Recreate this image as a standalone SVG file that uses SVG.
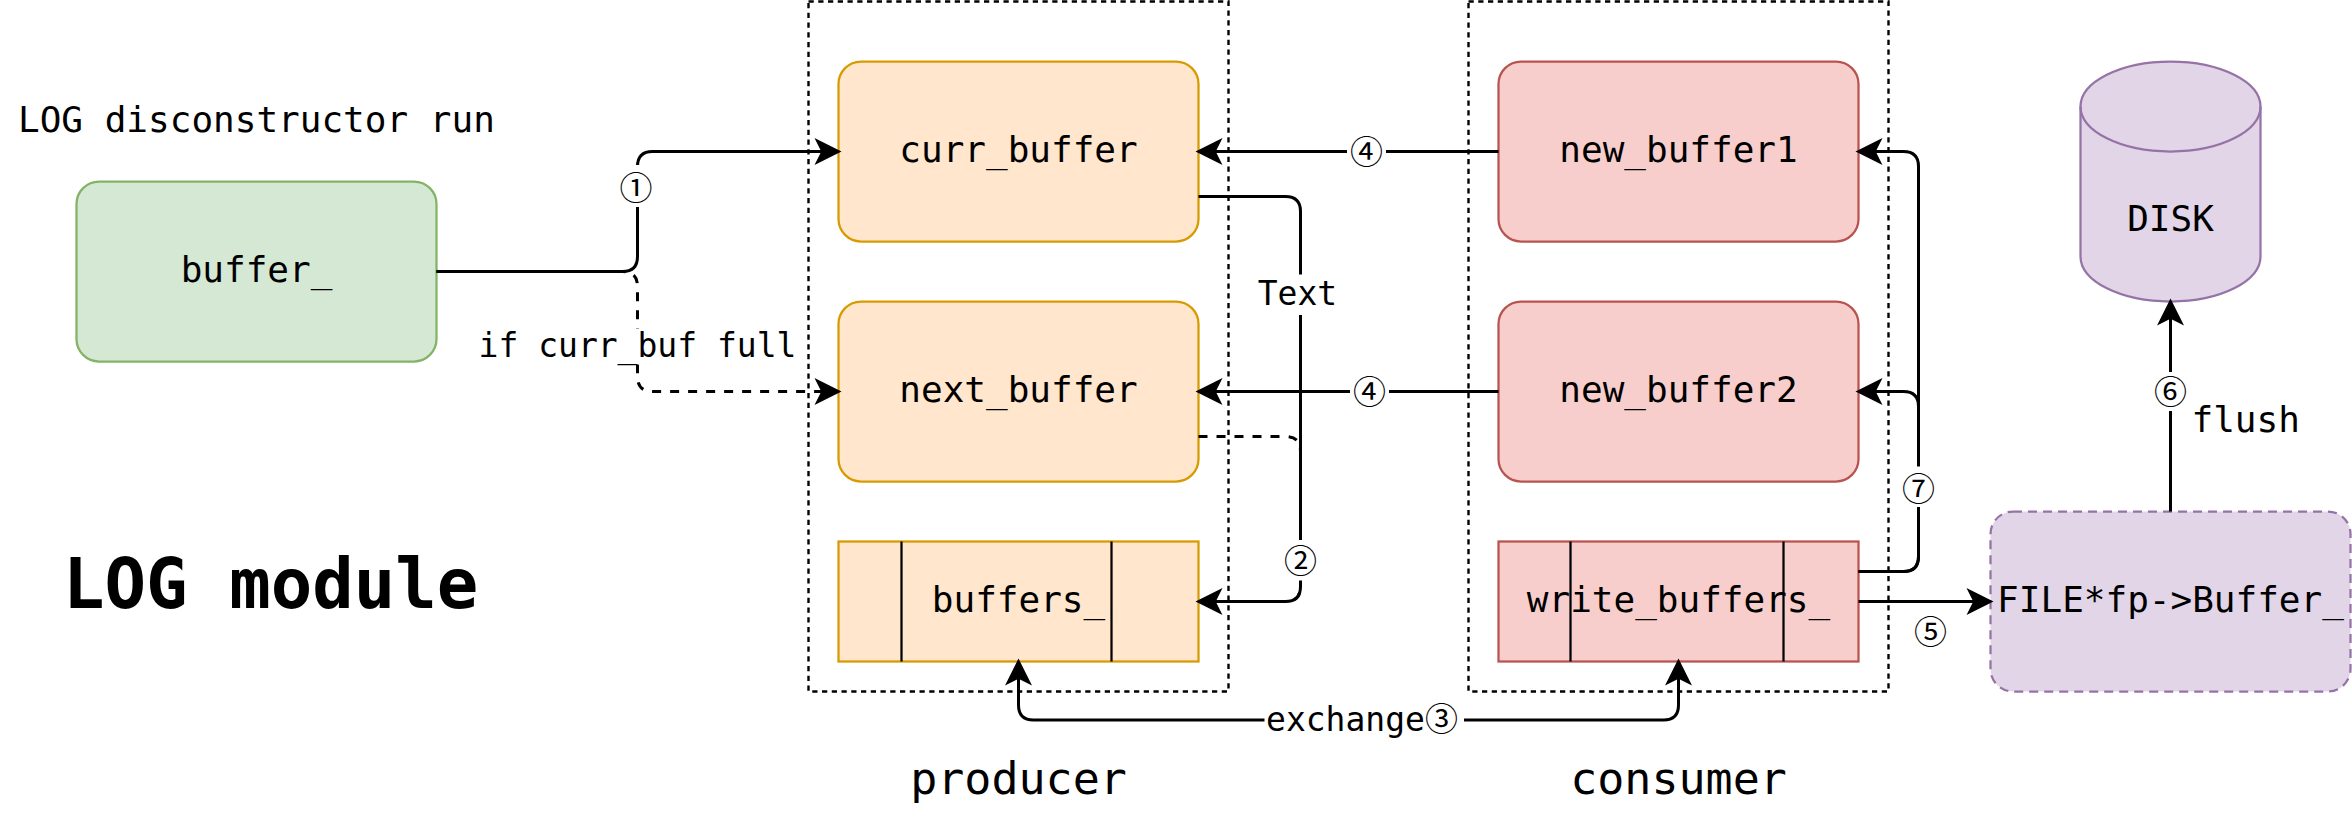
<svg xmlns="http://www.w3.org/2000/svg" width="2352" height="816" viewBox="0 0 2352 816">
<defs>
<style>
.t{font-family:"DejaVu Sans Mono","Liberation Mono",monospace;fill:#000}
.n{font-size:24px;text-anchor:middle}
.l{font-size:22px;text-anchor:middle}
.c{font-family:"Noto Sans CJK SC","DejaVu Sans",sans-serif;font-size:22px;text-anchor:middle;fill:#000}
.e{fill:none;stroke:#000;stroke-width:2}
.d{stroke-dasharray:6 6}
.bx{stroke-width:1.5}
.or{fill:#ffe6cc;stroke:#d79b00}
.rd{fill:#f8cecc;stroke:#b85450}
.pu{fill:#e1d5e7;stroke:#9673a6}
.gr{fill:#d5e8d4;stroke:#82b366}
.grp{fill:none;stroke:#000;stroke-width:1.6;stroke-dasharray:3.5 3}
.bg{fill:#fff}
</style>
<marker id="arr" markerUnits="userSpaceOnUse" viewBox="-20 -10 24 20" refX="0" refY="0" markerWidth="24" markerHeight="20" orient="auto-start-reverse" overflow="visible">
<path d="M2,0 L-16,-9 L-11.5,0 L-16,9 Z" fill="#000"/>
</marker>
</defs>
<rect width="2352" height="816" fill="#fff"/>
<g transform="scale(1.5)">
<g id="producer-group">
<rect class="grp" x="539" y="1" width="280" height="460"/>
<text class="t" x="679" y="529" font-size="30" text-anchor="middle">producer</text>
</g>
<g id="consumer-group">
<rect class="grp" x="979" y="1" width="280" height="460"/>
<text class="t" x="1119" y="529" font-size="30" text-anchor="middle">consumer</text>
</g>
<g id="title">
<text class="t" x="12" y="88" font-size="24">LOG disconstructor run</text>
<text class="t" x="42" y="405" font-size="46" font-weight="bold">LOG module</text>
</g>
<g id="buffer_">
<rect class="gr bx" x="51" y="121" width="240" height="120" rx="15"/>
<text class="t n" x="171" y="188">buffer_</text>
</g>
<g id="curr_buffer">
<rect class="or bx" x="559" y="41" width="240" height="120" rx="15"/>
<text class="t n" x="679" y="108">curr_buffer</text>
</g>
<g id="next_buffer">
<rect class="or bx" x="559" y="201" width="240" height="120" rx="15"/>
<text class="t n" x="679" y="268">next_buffer</text>
</g>
<g id="buffers_">
<rect class="or bx" x="559" y="361" width="240" height="80"/>
<line x1="601" y1="361" x2="601" y2="441" stroke="#000" stroke-width="1.5"/>
<line x1="741" y1="361" x2="741" y2="441" stroke="#000" stroke-width="1.5"/>
<text class="t n" x="679" y="408">buffers_</text>
</g>
<g id="new_buffer1">
<rect class="rd bx" x="999" y="41" width="240" height="120" rx="15"/>
<text class="t n" x="1119" y="108">new_buffer1</text>
</g>
<g id="new_buffer2">
<rect class="rd bx" x="999" y="201" width="240" height="120" rx="15"/>
<text class="t n" x="1119" y="268">new_buffer2</text>
</g>
<g id="write_buffers_">
<rect class="rd bx" x="999" y="361" width="240" height="80"/>
<line x1="1047" y1="361" x2="1047" y2="441" stroke="#000" stroke-width="1.5"/>
<line x1="1189" y1="361" x2="1189" y2="441" stroke="#000" stroke-width="1.5"/>
<text class="t n" x="1119" y="408">write_buffers_</text>
</g>
<g id="disk">
<path class="pu bx" d="M1387,71 A60,30 0 0 1 1507,71 L1507,171 A60,30 0 0 1 1387,171 Z"/>
<path fill="none" stroke="#9673a6" stroke-width="1.5" d="M1387,71 A60,30 0 0 0 1507,71"/>
<text class="t n" x="1447" y="154">DISK</text>
</g>
<g id="file_buffer">
<rect class="pu bx" x="1327" y="341" width="240" height="120" rx="15" stroke-dasharray="6 4"/>
<text class="t n" x="1447" y="408">FILE*fp-&gt;Buffer_</text>
</g>
<g id="connectors">
<path class="e d" d="M291,181 L415,181 Q425,181 425,191 L425,251 Q425,261 435,261 L559,261" marker-end="url(#arr)"/>
<path class="e" d="M291,181 L415,181 Q425,181 425,171 L425,111 Q425,101 435,101 L559,101" marker-end="url(#arr)"/>
<path class="e" d="M999,101 L799,101" marker-end="url(#arr)"/>
<path class="e" d="M999,261 L799,261" marker-end="url(#arr)"/>
<path class="e d" d="M799,291 L857,291 Q867,291 867,301 L867,391 Q867,401 857,401 L799,401"/>
<path class="e" d="M799,131 L857,131 Q867,131 867,141 L867,391 Q867,401 857,401 L799,401" marker-end="url(#arr)"/>
<path class="e" d="M1239,381 L1269,381 Q1279,381 1279,371 L1279,111 Q1279,101 1269,101 L1239,101" marker-end="url(#arr)"/>
<path class="e" d="M1239,381 L1269,381 Q1279,381 1279,371 L1279,271 Q1279,261 1269,261 L1239,261" marker-end="url(#arr)"/>
<path class="e" d="M1239,401 L1327,401" marker-end="url(#arr)"/>
<path class="e" d="M1447,341 L1447,201" marker-end="url(#arr)"/>
<path class="e" d="M679,441 L679,470 Q679,480 689,480 L1109,480 Q1119,480 1119,470 L1119,441" marker-start="url(#arr)" marker-end="url(#arr)"/>
</g>
<g id="labels">
<rect class="bg" x="412" y="110" width="25" height="28"/>
<text class="c" x="424" y="133">①</text>
<rect class="bg" x="318" y="219" width="214" height="24"/>
<text class="t l" x="425" y="238">if curr_buf full</text>
<rect class="bg" x="898" y="88" width="26" height="26"/>
<text class="c" x="911" y="109">④</text>
<rect class="bg" x="900" y="248" width="26" height="26"/>
<text class="c" x="913" y="269">④</text>
<rect class="bg" x="836" y="183" width="60" height="27"/>
<text class="t l" x="865" y="203">Text</text>
<rect class="bg" x="854" y="360" width="26" height="27"/>
<text class="c" x="867" y="382">②</text>
<rect class="bg" x="843" y="467" width="133" height="27"/>
<text class="t l" x="908" y="487">exchange<tspan style="font-family:'Noto Sans CJK SC','DejaVu Sans',sans-serif">③</tspan></text>
<text class="c" x="1287" y="429">⑤</text>
<rect class="bg" x="1434" y="248" width="26" height="26"/>
<text class="c" x="1447" y="269">⑥</text>
<text class="t" x="1461" y="288" font-size="24">flush</text>
<rect class="bg" x="1266" y="311" width="26" height="27"/>
<text class="c" x="1279" y="334">⑦</text>
</g>
</g>
</svg>
